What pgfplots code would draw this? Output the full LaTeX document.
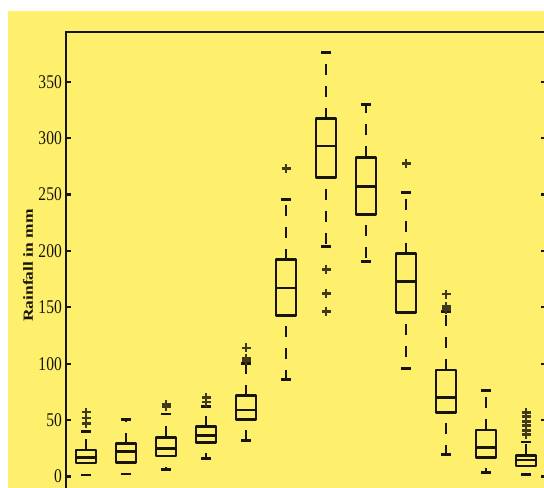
\documentclass[border=0pt]{standalone}
\usepackage{fontspec}
\setmainfont{Liberation Serif}
\usepackage{pgfplots}
\pgfplotsset{compat=1.18}
\usepgfplotslibrary{statistics}

\definecolor{bgyellow}{RGB}{254,240,108}
\definecolor{ink}{RGB}{24,22,10}
\definecolor{outl}{RGB}{62,58,26}

\tikzset{
  whisker line/.style={draw=ink,line width=2.6bp,line cap=butt,dash pattern=on 11bp off 11bp},
  whisker cap/.style={draw=ink,line width=2.8bp,solid},
}

% dashed whisker stems with solid end caps
\pgfplotsset{
  /pgfplots/boxplot/draw/lower whisker/.code={%
    \draw[whisker line,dash phase=11bp]
      (boxplot box cs:\pgfplotsboxplotvalue{lower quartile},0.5)
      -- (boxplot box cs:\pgfplotsboxplotvalue{lower whisker},0.5);
    \draw[whisker cap]
      (boxplot whisker cs:\pgfplotsboxplotvalue{lower whisker},0)
      -- (boxplot whisker cs:\pgfplotsboxplotvalue{lower whisker},1);
  },
  /pgfplots/boxplot/draw/upper whisker/.code={%
    \draw[whisker line]
      (boxplot box cs:\pgfplotsboxplotvalue{upper quartile},0.5)
      -- (boxplot box cs:\pgfplotsboxplotvalue{upper whisker},0.5);
    \draw[whisker cap]
      (boxplot whisker cs:\pgfplotsboxplotvalue{upper whisker},0)
      -- (boxplot whisker cs:\pgfplotsboxplotvalue{upper whisker},1);
  },
  bx/.style={draw=ink,line width=2.9bp,line join=round,solid,fill=none,
    mark=+,mark size=4.5bp,
    mark options={draw=outl,line width=2.6bp,solid}},
  boxplot/every box/.style={draw=ink,line width=2.9bp,line join=round},
  boxplot/every median/.style={draw=ink,line width=2.6bp},
}

\begin{document}
\begin{tikzpicture}
\useasboundingbox (0,0) rectangle (544bp,488bp);
\fill[white] (0,0) rectangle (544bp,488bp);
\fill[bgyellow] (8bp,0) rectangle (544bp,477bp);
\clip (0,0) rectangle (544bp,488bp);
\begin{axis}[
  at={(66bp,-11.07bp)}, anchor=south west,
  scale only axis, width=480bp, height=467.07bp,
  xmin=0.5, xmax=12.5, ymin=-20, ymax=394,
  xtick=\empty,
  ytick={0,50,...,350},
  axis line style={line width=2.8bp,draw=ink},
  tick style={line width=2.2bp,draw=ink},
  major tick length=5bp,
  tick align=inside,
  /pgf/number format/assume math mode=true,
  yticklabel={\scalebox{0.8}[1]{\pgfmathprintnumber{\tick}}},
  yticklabel style={font=\fontsize{19.5}{19.5}\selectfont,text=ink,inner sep=0pt,xshift=-4bp},
  every axis y label/.style={at={(axis description cs:-0.079,0.5)},rotate=90,anchor=center},
  ylabel={\scalebox{1}[0.8]{Rainfall in mm}},
  ylabel style={font=\bfseries\fontsize{17.5}{17.5}\selectfont,text=ink},
  boxplot/draw direction=y,
  boxplot/box extend=0.5,
  boxplot/whisker extend=0.25,
]
% monthly rainfall distributions, Jan to Dec
\addplot[bx, boxplot prepared={draw position=1, lower whisker=1.3, lower quartile=12, median=17, upper quartile=23.5, upper whisker=40}]
  table[row sep=\\,y index=0] {v\\ 47\\ 52\\ 57\\};
\addplot[bx, boxplot prepared={draw position=2, lower whisker=2.2, lower quartile=12.7, median=22.3, upper quartile=29, upper whisker=50.7}]
  coordinates {};
\addplot[bx, boxplot prepared={draw position=3, lower whisker=6.4, lower quartile=18.2, median=25, upper quartile=34.7, upper whisker=55.4}]
  table[row sep=\\,y index=0] {v\\ 62\\ 64\\};
\addplot[bx, boxplot prepared={draw position=4, lower whisker=15.8, lower quartile=30.4, median=36.5, upper quartile=44.2, upper whisker=62}]
  table[row sep=\\,y index=0] {v\\ 66\\ 70\\};
\addplot[bx, boxplot prepared={draw position=5, lower whisker=32, lower quartile=50.7, median=59, upper quartile=71.5, upper whisker=100}]
  table[row sep=\\,y index=0] {v\\ 103\\ 105\\ 114\\};
\addplot[bx, boxplot prepared={draw position=6, lower whisker=86, lower quartile=143, median=167, upper quartile=192, upper whisker=245.7}]
  table[row sep=\\,y index=0] {v\\ 273\\};
\addplot[bx, boxplot prepared={draw position=7, lower whisker=203.7, lower quartile=264.7, median=293, upper quartile=317, upper whisker=375.6}]
  table[row sep=\\,y index=0] {v\\ 183.6\\ 162.4\\ 146.1\\};
\addplot[bx, boxplot prepared={draw position=8, lower whisker=190.4, lower quartile=232.5, median=257, upper quartile=283, upper whisker=330}]
  coordinates {};
\addplot[bx, boxplot prepared={draw position=9, lower whisker=96, lower quartile=145, median=172.7, upper quartile=197.5, upper whisker=251.5}]
  table[row sep=\\,y index=0] {v\\ 277.6\\};
\addplot[bx, boxplot prepared={draw position=10, lower whisker=19.7, lower quartile=56.9, median=70, upper quartile=94.4, upper whisker=146}]
  table[row sep=\\,y index=0] {v\\ 148\\ 150.5\\ 161.7\\};
\addplot[bx, boxplot prepared={draw position=11, lower whisker=3.4, lower quartile=17, median=25.9, upper quartile=41.2, upper whisker=76}]
  coordinates {};
\addplot[bx, boxplot prepared={draw position=12, lower whisker=1.5, lower quartile=9.3, median=14.6, upper quartile=19, upper whisker=30.5}]
  table[row sep=\\,y index=0] {v\\ 37\\ 41\\ 45\\ 49\\ 53\\ 56.5\\};
\end{axis}
\end{tikzpicture}
\end{document}
